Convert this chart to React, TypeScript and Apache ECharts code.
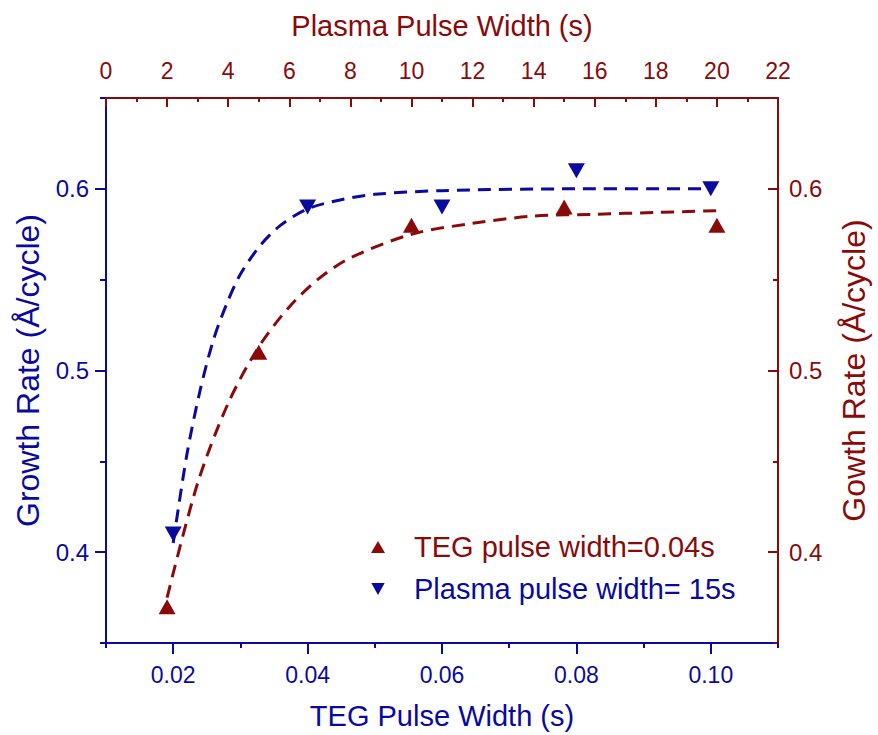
import React, { useEffect, useRef } from "react";
import * as echarts from "echarts";

// Measured growth rate vs. TEG pulse width (plasma pulse fixed at 15 s)
const tegPulse = [0.02, 0.04, 0.06, 0.08, 0.1];
const rateVsTeg = [0.41, 0.59, 0.59, 0.61, 0.6];

// Measured growth rate vs. plasma pulse width (TEG pulse fixed at 0.04 s)
const plasmaPulse = [2, 5, 10, 15, 20];
const rateVsPlasma = [0.37, 0.51, 0.58, 0.59, 0.58];

// Saturation fit curves
const tegFitX = [0.02, 0.022, 0.024, 0.026, 0.028, 0.03, 0.033, 0.036, 0.04, 0.045, 0.05, 0.06, 0.08, 0.1];
const tegFitY = [0.405, 0.453, 0.489, 0.517, 0.537, 0.553, 0.569, 0.58, 0.589, 0.594, 0.597, 0.599, 0.6, 0.6];
const plasmaFitX = [2, 3, 4, 5, 6, 7, 8, 10, 12, 14, 16, 18, 20];
const plasmaFitY = [0.375, 0.438, 0.482, 0.513, 0.535, 0.551, 0.562, 0.575, 0.581, 0.585, 0.586, 0.587, 0.588];

// Tick labels
const tegMajorTicks = [0.02, 0.04, 0.06, 0.08, 0.1];
const plasmaMajorTicks = [0, 2, 4, 6, 8, 10, 12, 14, 16, 18, 20, 22];
const rateMajorTicks = [0.4, 0.5, 0.6];

const legendNames = ["TEG pulse width=0.04s", "Plasma pulse width= 15s"];

const BLUE = "#0a0a9e";
const RED = "#8a0a0a";
const FONT = "'Liberation Sans', Arial, sans-serif";
const DOWN_TRI = "path://M0,0L10,0L5,9Z";

const zip = (xs: number[], ys: number[]) => xs.map((x, i) => [x, ys[i]]);

export default function App() {
  const ref = useRef<HTMLDivElement>(null);

  useEffect(() => {
    if (!ref.current) return;
    const chart = echarts.init(ref.current, null, { renderer: "svg" });

    const overlay = {
      axisLine: { show: false },
      axisLabel: { show: false },
      splitLine: { show: false },
    };

    const rateLabel = (v: number) => {
      const k = Math.round(v * 100);
      return k % 10 === 0 ? (k / 100).toFixed(1) : "";
    };

    chart.setOption({
      animation: false,
      backgroundColor: "#ffffff",
      grid: { left: 106, right: 88, top: 98, bottom: 91, containLabel: false },
      legend: {
        orient: "vertical",
        left: 371,
        top: 532,
        padding: 0,
        itemGap: 12,
        itemWidth: 14,
        itemHeight: 12,
        selectedMode: false,
        data: [
          { name: legendNames[0], icon: "triangle", textStyle: { color: RED } },
          { name: legendNames[1], icon: DOWN_TRI, textStyle: { color: BLUE } },
        ],
        textStyle: {
          fontFamily: FONT,
          fontSize: 29,
          lineHeight: 30,
          padding: [0, 0, 0, 24],
        },
      },
      xAxis: [
        {
          type: "value",
          position: "bottom",
          min: 0.01,
          max: 0.11,
          interval: 0.01,
          name: "TEG Pulse Width (s)",
          nameLocation: "middle",
          nameGap: 58,
          nameTextStyle: { color: BLUE, fontFamily: FONT, fontSize: 29 },
          axisLine: { lineStyle: { color: BLUE, width: 2 } },
          axisTick: { length: 5, lineStyle: { color: BLUE, width: 2 } },
          axisLabel: {
            color: BLUE,
            fontFamily: FONT,
            fontSize: 23,
            margin: 20,
            formatter: (v: number) => {
              const k = Math.round(v * 100);
              return k % 2 === 0 ? (k / 100).toFixed(2) : "";
            },
          },
          splitLine: { show: false },
        },
        {
          type: "value",
          position: "bottom",
          min: 0.01,
          max: 0.11,
          ...overlay,
          axisTick: { customValues: tegMajorTicks, length: 11, lineStyle: { color: BLUE, width: 2 } },
        },
        {
          type: "value",
          position: "top",
          min: 0,
          max: 22,
          interval: 1,
          name: "Plasma Pulse Width (s)",
          nameLocation: "middle",
          nameGap: 58,
          nameTextStyle: { color: RED, fontFamily: FONT, fontSize: 29 },
          axisLine: { lineStyle: { color: RED, width: 2 } },
          axisTick: { inside: true, length: 4, lineStyle: { color: RED, width: 2 } },
          axisLabel: {
            color: RED,
            fontFamily: FONT,
            fontSize: 23,
            margin: 16,
            formatter: (v: number) => (plasmaMajorTicks.includes(Math.round(v)) ? String(Math.round(v)) : ""),
          },
          splitLine: { show: false },
        },
        {
          type: "value",
          position: "top",
          min: 0,
          max: 22,
          ...overlay,
          axisTick: { inside: true, customValues: plasmaMajorTicks, length: 9, lineStyle: { color: RED, width: 2 } },
        },
      ],
      yAxis: [
        {
          type: "value",
          position: "left",
          min: 0.35,
          max: 0.65,
          interval: 0.05,
          name: "Growth Rate (Å/cycle)",
          nameLocation: "middle",
          nameGap: 62,
          nameTextStyle: { color: BLUE, fontFamily: FONT, fontSize: 32 },
          axisLine: { lineStyle: { color: BLUE, width: 2 } },
          axisTick: { length: 6, lineStyle: { color: BLUE, width: 2 } },
          axisLabel: { color: BLUE, fontFamily: FONT, fontSize: 24, margin: 17, formatter: rateLabel },
          splitLine: { show: false },
        },
        {
          type: "value",
          position: "left",
          min: 0.35,
          max: 0.65,
          ...overlay,
          axisTick: { customValues: rateMajorTicks, length: 11, lineStyle: { color: BLUE, width: 2 } },
        },
        {
          type: "value",
          position: "right",
          min: 0.35,
          max: 0.65,
          interval: 0.05,
          name: "Gowth Rate (Å/cycle)",
          nameLocation: "middle",
          nameGap: 60,
          nameTextStyle: { color: RED, fontFamily: FONT, fontSize: 32 },
          axisLine: { lineStyle: { color: RED, width: 2 } },
          axisTick: { inside: true, length: 5, lineStyle: { color: RED, width: 2 } },
          axisLabel: { color: RED, fontFamily: FONT, fontSize: 24, margin: 11, formatter: rateLabel },
          splitLine: { show: false },
        },
        {
          type: "value",
          position: "right",
          min: 0.35,
          max: 0.65,
          ...overlay,
          axisTick: { inside: true, customValues: rateMajorTicks, length: 10, lineStyle: { color: RED, width: 2 } },
        },
      ],
      series: [
        {
          type: "line",
          name: "tegFit",
          xAxisIndex: 0,
          yAxisIndex: 0,
          data: zip(tegFitX, tegFitY),
          smooth: 0.3,
          showSymbol: false,
          lineStyle: { color: BLUE, width: 3, type: [13, 8] },
          silent: true,
        },
        {
          type: "line",
          name: "plasmaFit",
          xAxisIndex: 2,
          yAxisIndex: 2,
          data: zip(plasmaFitX, plasmaFitY),
          smooth: 0.3,
          showSymbol: false,
          lineStyle: { color: RED, width: 3, type: [13, 8] },
          silent: true,
        },
        {
          type: "scatter",
          name: legendNames[0],
          xAxisIndex: 2,
          yAxisIndex: 2,
          data: zip(plasmaPulse, rateVsPlasma),
          symbol: "triangle",
          symbolSize: [17, 15],
          itemStyle: { color: RED, opacity: 1 },
        },
        {
          type: "scatter",
          name: legendNames[1],
          xAxisIndex: 0,
          yAxisIndex: 0,
          data: zip(tegPulse, rateVsTeg),
          symbol: DOWN_TRI,
          symbolSize: [17, 15],
          itemStyle: { color: BLUE, opacity: 1 },
        },
      ],
    });

    return () => chart.dispose();
  }, []);

  return (
    <div
      ref={ref}
      style={{ position: "fixed", left: 0, top: 0, width: 878, height: 735, background: "#fff" }}
    />
  );
}
